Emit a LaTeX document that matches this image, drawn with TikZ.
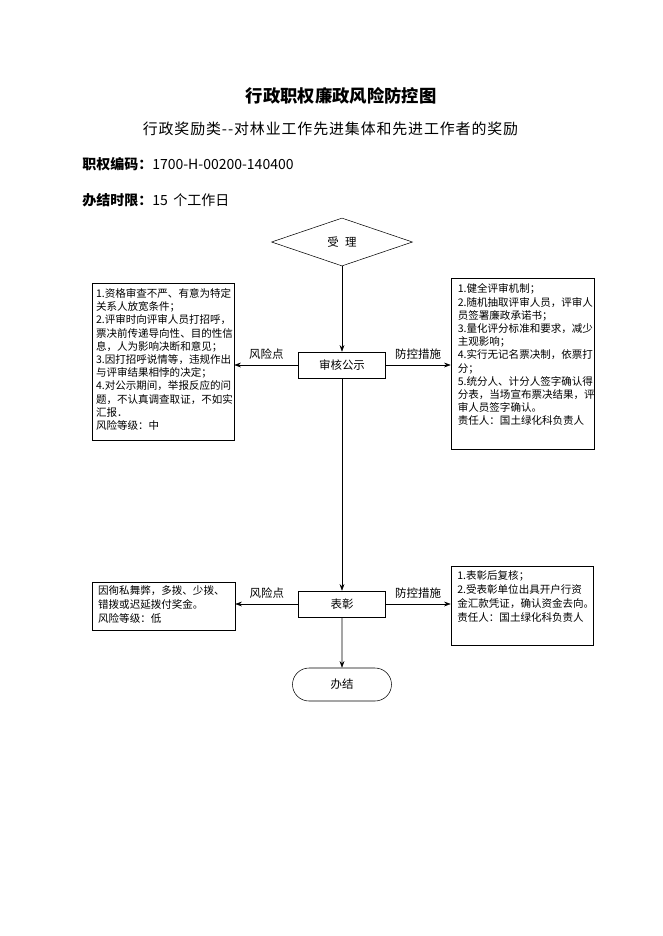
\documentclass[tikz,border=0pt]{standalone}
\usepackage{fontspec}
\setmainfont{Noto Sans CJK SC}
\usetikzlibrary{shapes.geometric,shapes.misc,arrows.meta}
\newcommand{\notetext}[4][9.9pt]{\parbox[c][#3][t]{#2}{\fontsize{7.9pt}{#1}\selectfont #4}}

\begin{document}
\begin{tikzpicture}[x=0.75pt,y=-0.75pt,
    stepbox/.style={draw,rectangle,minimum width=65pt,minimum height=19.5pt,inner sep=0pt,font=\fontsize{8.6pt}{10pt}\selectfont},
    notebox/.style={draw,rectangle,inner sep=0pt},
    tag/.style={font=\fontsize{8.6pt}{10pt}\selectfont,inner sep=2pt,yshift=2pt},
    >={Stealth[length=5pt,width=3.6pt]}]
  \useasboundingbox (0,0) rectangle (662,936);
  \node (title) at (341,96) {\fontsize{13pt}{15pt}\selectfont\bfseries 行政职权廉政风险防控图};
  \node (sub) at (330.5,129) {\fontsize{11.2pt}{13pt}\selectfont\addfontfeature{LetterSpace=6}行政奖励类{-}{-}对林业工作先进集体和先进工作者的奖励};
  \node [anchor=west,inner sep=0pt] (code) at (82,164) {\fontsize{10.5pt}{12pt}\selectfont\textbf{职权编码：}1700-H-00200-140400};
  \node [anchor=west,inner sep=0pt] (limit) at (82,200) {\fontsize{10.5pt}{12pt}\selectfont\textbf{办结时限：}15\hspace{0.4em}个工作日};
  % flow
  \node [draw,diamond,aspect=3,minimum width=105.75pt,minimum height=36pt,inner sep=0pt,font=\fontsize{8.6pt}{10pt}\selectfont] (accept) at (342,242) {受\hspace{0.55em}理};
  \node [stepbox] (review) at (342,365) {审核公示};
  \node [stepbox] (award) at (342,604) {表彰};
  \node [draw,rounded rectangle,minimum width=74.25pt,minimum height=24.75pt,inner sep=0pt,font=\fontsize{8.6pt}{10pt}\selectfont] (finish) at (342,684.5) {办结};
  % notes
  \node [notebox,minimum width=106.5pt,minimum height=117.75pt] (risk1) at (163,361.5) {\notetext{100.5pt}{109.5pt}{%
    1.资格审查不严、有意为特定\\关系人放宽条件；\\2.评审时向评审人员打招呼，\\票决前传递导向性、目的性信\\息，人为影响决断和意见；\\3.因打招呼说情等，违规作出\\与评审结果相悖的决定；\\4.对公示期间，举报反应的问\\题，不认真调查取证，不如实\\汇报．\\风险等级：中}};
  \node [notebox,minimum width=107.25pt,minimum height=128.25pt] (measure1) at (522.5,363.5) {\notetext{97pt}{119.5pt}{%
    1.健全评审机制；\\2.随机抽取评审人员，评审人\\员签署廉政承诺书；\\3.量化评分标准和要求，减少\\主观影响；\\4.实行无记名票决制，依票打\\分；\\5.统分人、计分人签字确认得\\分表，当场宣布票决结果，评\\审人员签字确认。\\责任人：国土绿化科负责人}};
  \node [notebox,minimum width=107.25pt,minimum height=36pt] (risk2) at (163.5,606) {\notetext[10.5pt]{98pt}{31pt}{%
    因徇私舞弊，多拨、少拨、\\错拨或迟延拨付奖金。\\风险等级：低}};
  \node [notebox,minimum width=106.5pt,minimum height=59.25pt] (measure2) at (522,605.5) {\notetext[10.5pt]{97pt}{52pt}{%
    1.表彰后复核；\\2.受表彰单位出具开户行资\\金汇款凭证，确认资金去向。\\责任人：国土绿化科负责人}};
  % connectors
  \draw [->] (accept) -- (review);
  \draw [->] (review.west) -- (review.west -| risk1.east) node [tag,midway,above] {风险点};
  \draw [->] (review.east) -- (review.east -| measure1.west) node [tag,midway,above] {防控措施};
  \draw [->] (review) -- (award);
  \draw [->] (award.west) -- (award.west -| risk2.east) node [tag,midway,above] {风险点};
  \draw [->] (award.east) -- (award.east -| measure2.west) node [tag,midway,above] {防控措施};
  \draw [->] (award) -- (finish);
\end{tikzpicture}
\end{document}
